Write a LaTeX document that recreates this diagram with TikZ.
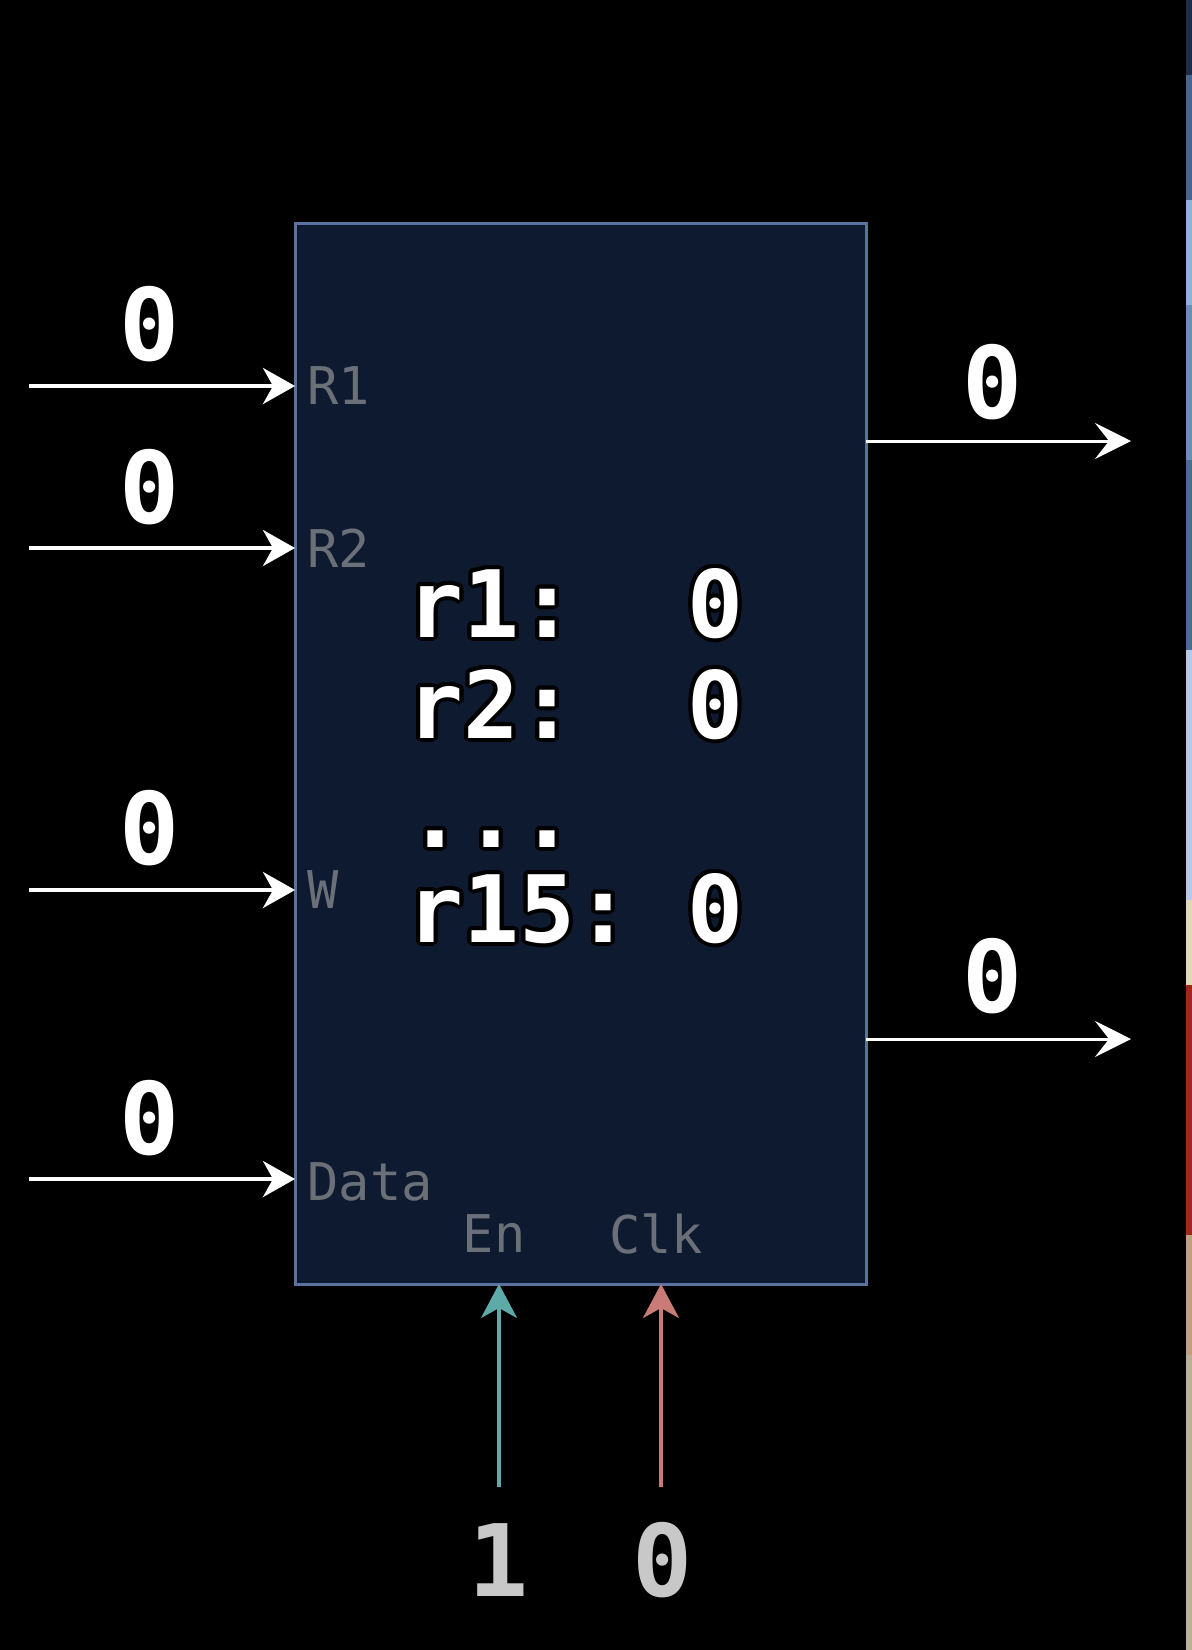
\documentclass[tikz,border=0pt]{standalone}
\usepackage{fontspec}
\usepackage{contour}
\usetikzlibrary{arrows.meta}
\newfontfamily\pixfont{DejaVu Sans Mono}
\definecolor{boxfill}{HTML}{0E1A2F}
\definecolor{boxedge}{HTML}{5A72A0}
\definecolor{portgray}{HTML}{6A6F78}
\definecolor{digitgray}{HTML}{C8C8C8}
\definecolor{enteal}{HTML}{5EAAA8}
\definecolor{clksalmon}{HTML}{C97B78}
\contourlength{2pt}

\begin{document}
\begin{tikzpicture}[x=0.5pt, y=-0.5pt,
	regbox/.style={draw=boxedge, fill=boxfill, line width=1.5pt, minimum width=285.5pt, minimum height=530.5pt, inner sep=0pt, outer sep=0pt},
	bigval/.style={text=white, font=\pixfont\bfseries\fontsize{50}{50}\selectfont, inner sep=0pt},
	regline/.style={anchor=base west, text=white, font=\pixfont\bfseries\fontsize{46.5}{46.5}\selectfont, inner sep=0pt},
	port/.style={anchor=west, text=portgray, font=\pixfont\fontsize{26}{26}\selectfont, inner sep=0pt},
	wirein/.style={draw=white, line width=2pt, -{Stealth[length=16pt, width=18pt, inset=5pt]}},
	wireout/.style={draw=white, line width=1.5pt, -{Stealth[length=18pt, width=18pt, inset=7pt]}},
	wireup/.style={line width=1.8pt, -{Stealth[length=17pt, width=18pt, inset=5pt]}}]
					% background and the strip at the right edge
					\fill[black] (0,0) rectangle (1192,1650);
					\fill[fill={rgb,255:red,30;green,44;blue,72}] (1186,0) rectangle (1192,75);
					\fill[fill={rgb,255:red,74;green,100;blue,144}] (1186,75) rectangle (1192,200);
					\fill[fill={rgb,255:red,143;green,176;blue,224}] (1186,200) rectangle (1192,305);
					\fill[fill={rgb,255:red,106;green,140;blue,192}] (1186,305) rectangle (1192,460);
					\fill[fill={rgb,255:red,74;green,106;blue,154}] (1186,460) rectangle (1192,650);
					\fill[fill={rgb,255:red,184;green,200;blue,232}] (1186,650) rectangle (1192,900);
					\fill[fill={rgb,255:red,224;green,216;blue,184}] (1186,900) rectangle (1192,985);
					\fill[fill={rgb,255:red,160;green,40;blue,24}] (1186,985) rectangle (1192,1235);
					\fill[fill={rgb,255:red,192;green,160;blue,128}] (1186,1235) rectangle (1192,1355);
					\fill[fill={rgb,255:red,184;green,176;blue,152}] (1186,1355) rectangle (1192,1650);

					% register file
					\node[regbox] (regs) at (580.5,753.5) {};

					% inputs
					\coordinate (sR1) at (29,386);
					\coordinate (sR2) at (29,548);
					\coordinate (sW) at (29,890);
					\coordinate (sData) at (29,1179);
					\draw[wirein] (sR1) -- (sR1 -| regs.west);
					\draw[wirein] (sR2) -- (sR2 -| regs.west);
					\draw[wirein] (sW) -- (sW -| regs.west);
					\draw[wirein] (sData) -- (sData -| regs.west);
					\node[bigval] (vR1) at (150,324) {0};
					\node[bigval] (vR2) at (150,487) {0};
					\node[bigval] (vW) at (150,828) {0};
					\node[bigval] (vData) at (150,1118) {0};
					\node[port] (lR1) at (307,386) {R1};
					\node[port] (lR2) at (307,548) {R2};
					\node[port] (lW) at (307,890) {W};
					\node[port] (lData) at (307,1182) {Data};

					% register contents
					\node[regline] (r1) at (407,637) {\contour{black}{r1:\ \ 0}};
					\node[regline] (r2) at (407,738) {\contour{black}{r2:\ \ 0}};
					\node[regline] (rdots) at (407,847) {\contour{black}{...}};
					\node[regline] (r15) at (407,942) {\contour{black}{r15:\ 0}};

					% outputs
					\coordinate (oA) at (1131,441);
					\coordinate (oB) at (1131,1039);
					\draw[wireout] (oA -| regs.east) -- (oA);
					\draw[wireout] (oB -| regs.east) -- (oB);
					\node[bigval] (vA) at (993,382) {0};
					\node[bigval] (vB) at (993,976) {0};

					% enable and clock
					\node[port, anchor=center] (lEn) at (494,1234) {En};
					\node[port, anchor=center] (lClk) at (656,1234) {Clk};
					\coordinate (sEn) at (499,1487);
					\coordinate (sClk) at (661,1487);
					\draw[wireup, draw=enteal, color=enteal] (sEn) -- (sEn |- regs.south);
					\draw[wireup, draw=clksalmon, color=clksalmon] (sClk) -- (sClk |- regs.south);
					\node[bigval, text=digitgray] (vEn) at (499,1560) {1};
					\node[bigval, text=digitgray] (vClk) at (663,1560) {0};
\end{tikzpicture}
\end{document}
